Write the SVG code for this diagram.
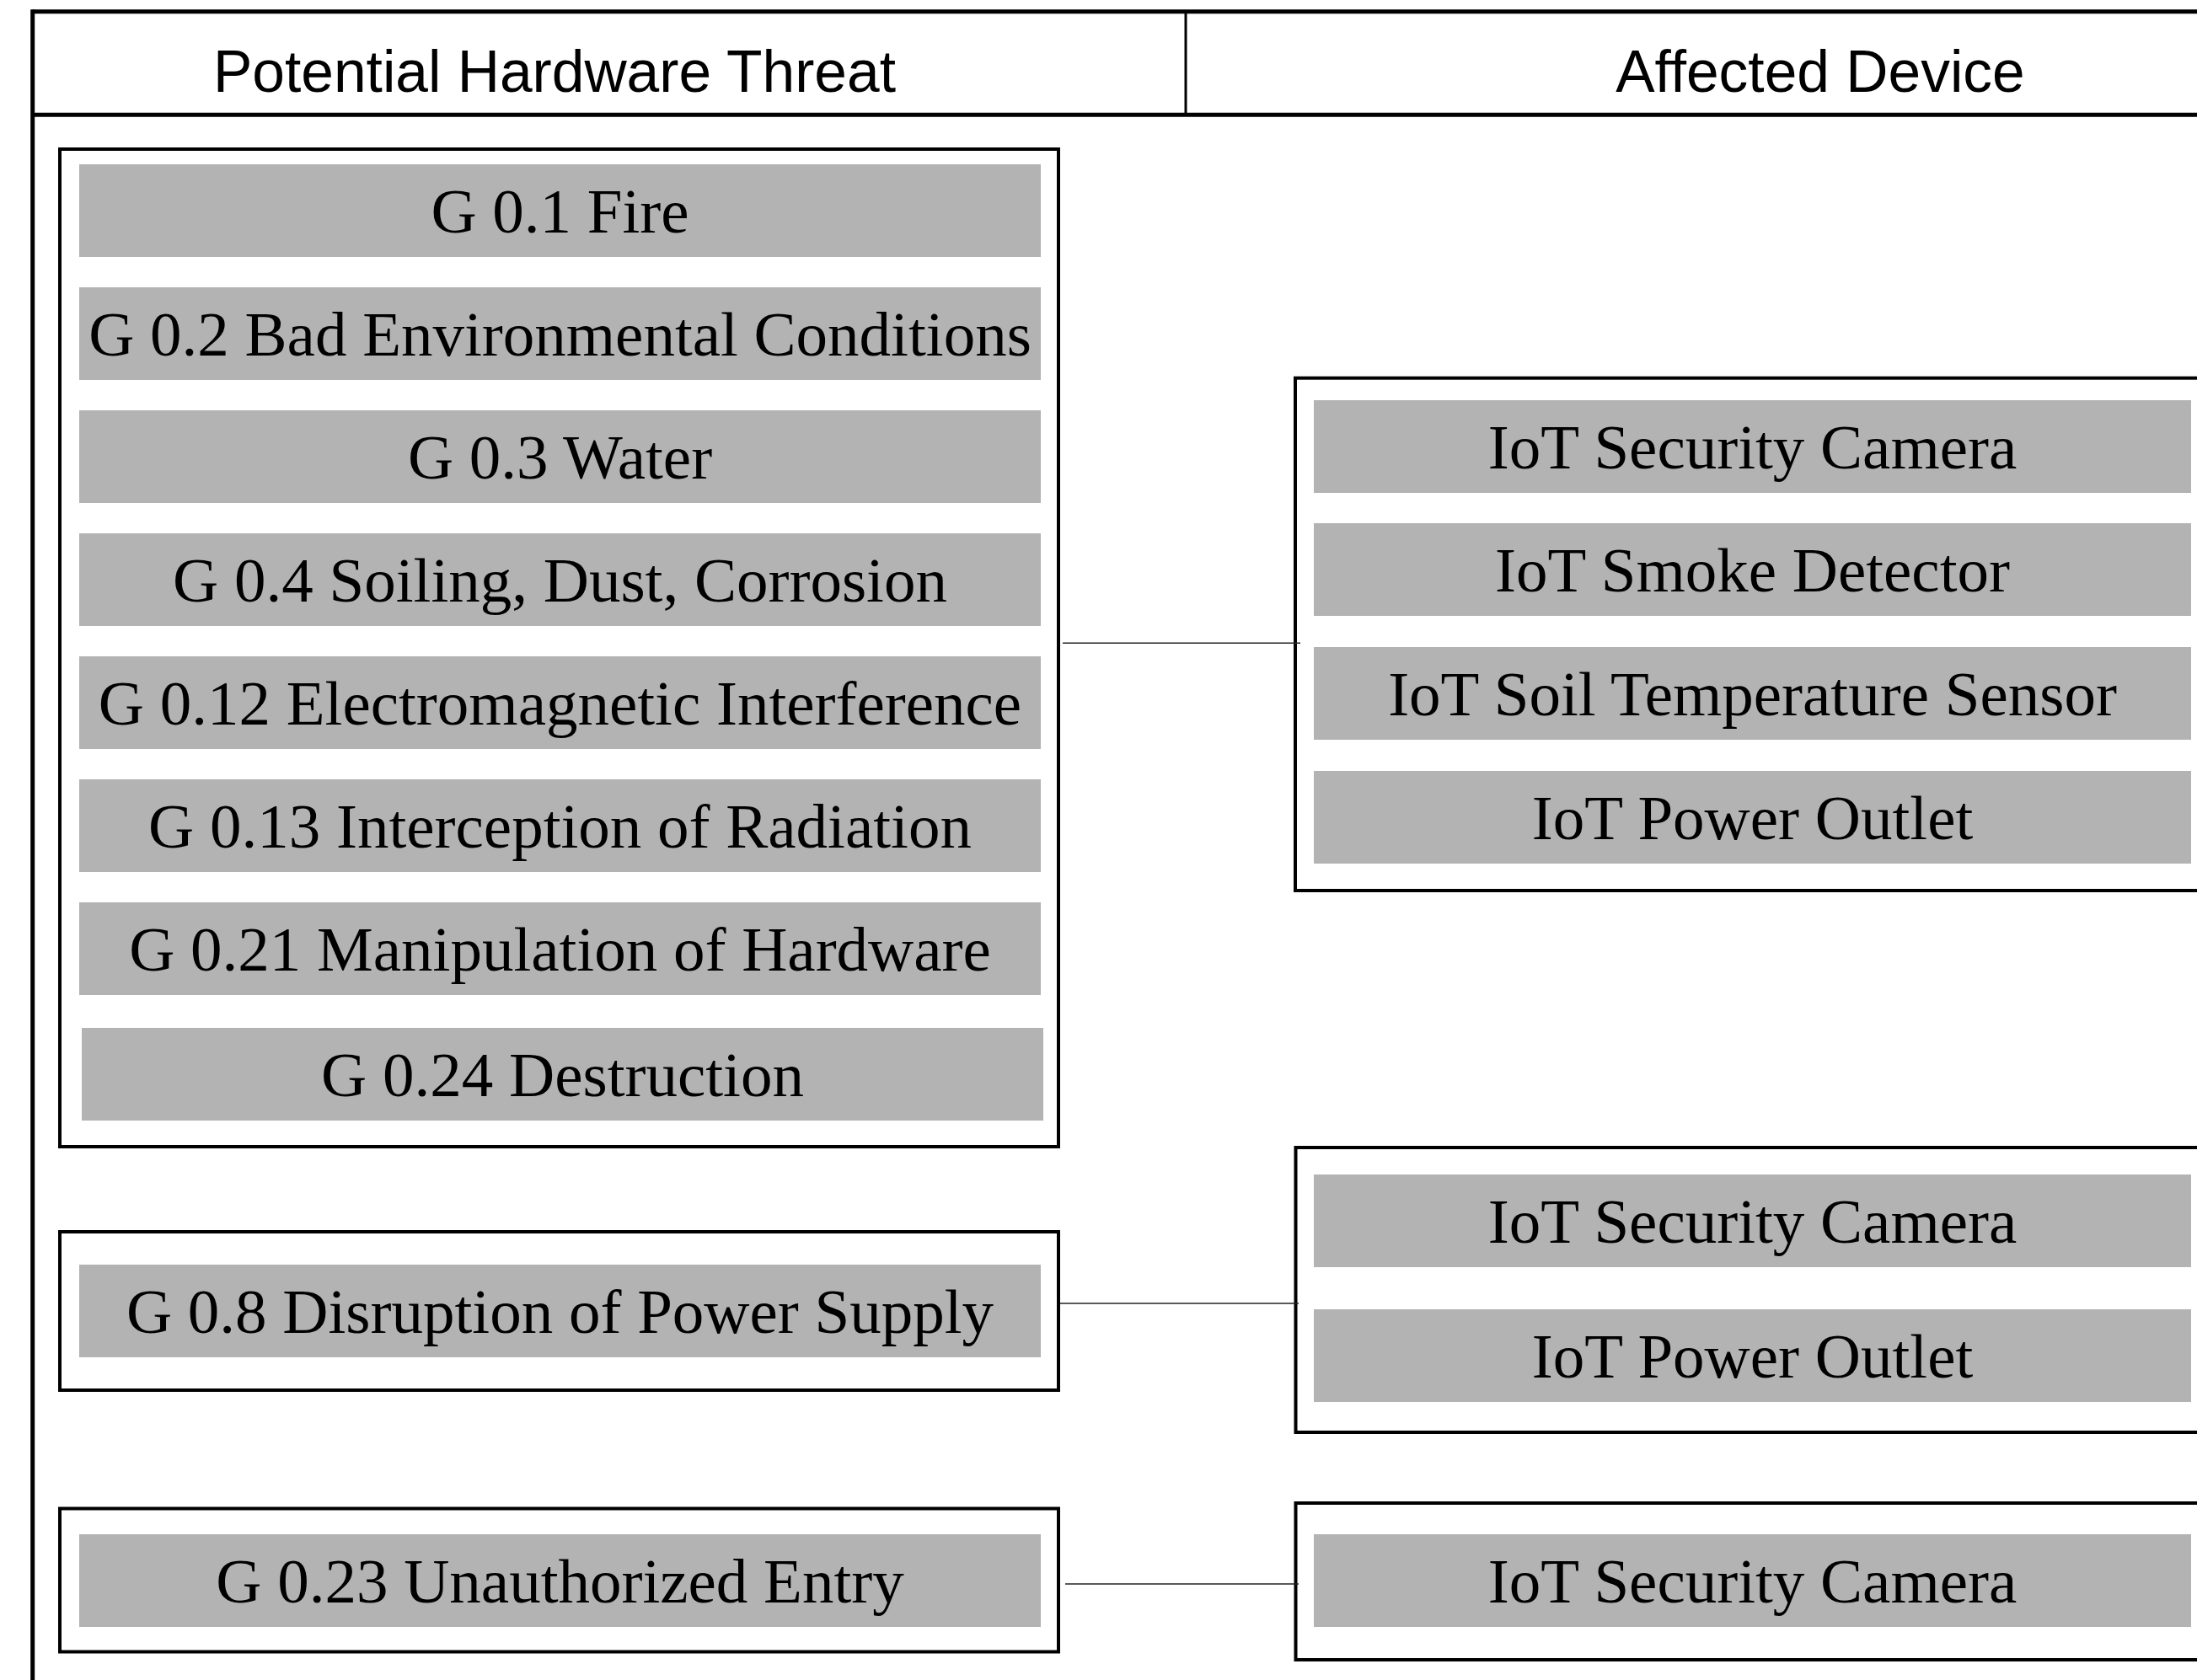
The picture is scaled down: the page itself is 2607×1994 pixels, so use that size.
<svg xmlns="http://www.w3.org/2000/svg" width="2607" height="1994" viewBox="0 0 2607 1994">
<style>
.frame{fill:none;stroke:#000;stroke-width:5}
.box{fill:#fff;stroke:#000;stroke-width:4}
.item{fill:#b3b3b3}
.hd{font-family:"Liberation Sans",Arial,Helvetica,sans-serif;font-size:69.5px;fill:#000;text-anchor:middle}
.lbl{font-family:"Liberation Serif","Times New Roman",serif;font-size:75px;fill:#000;text-anchor:middle}
.conn{stroke:#222;stroke-width:1.4;fill:none}
</style>
<rect x="0" y="0" width="2607" height="1994" fill="#fff"/>
<g id="table-frame">
<line class="frame" x1="38.7" y1="13.7" x2="2620" y2="13.7"/>
<line class="frame" x1="38.7" y1="11.2" x2="38.7" y2="2000"/>
<line class="frame" x1="38.7" y1="136.3" x2="2620" y2="136.3"/>
<line x1="1407" y1="14" x2="1407" y2="136" stroke="#000" stroke-width="3"/>
<text class="hd" x="658" y="109">Potential Hardware Threat</text>
<text class="hd" x="2160" y="109">Affected Device</text>
</g>
<g id="threat-group-1">
<rect class="box" x="71" y="177" width="1185" height="1184"/>
<rect class="item" x="94" y="195" width="1141" height="110"/>
<text class="lbl" x="664.5" y="276">G 0.1 Fire</text>
<rect class="item" x="94" y="341" width="1141" height="110"/>
<text class="lbl" x="664.5" y="422">G 0.2 Bad Environmental Conditions</text>
<rect class="item" x="94" y="487" width="1141" height="110"/>
<text class="lbl" x="664.5" y="568">G 0.3 Water</text>
<rect class="item" x="94" y="633" width="1141" height="110"/>
<text class="lbl" x="664.5" y="714">G 0.4 Soiling, Dust, Corrosion</text>
<rect class="item" x="94" y="779" width="1141" height="110"/>
<text class="lbl" x="664.5" y="860">G 0.12 Electromagnetic Interference</text>
<rect class="item" x="94" y="925" width="1141" height="110"/>
<text class="lbl" x="664.5" y="1006">G 0.13 Interception of Radiation</text>
<rect class="item" x="94" y="1071" width="1141" height="110"/>
<text class="lbl" x="664.5" y="1152">G 0.21 Manipulation of Hardware</text>
<rect class="item" x="97" y="1220" width="1141" height="110"/>
<text class="lbl" x="667.5" y="1301">G 0.24 Destruction</text>
</g>
<g id="threat-group-2">
<rect class="box" x="71" y="1462" width="1185" height="188"/>
<rect class="item" x="94" y="1501" width="1141" height="110"/>
<text class="lbl" x="664.5" y="1582">G 0.8 Disruption of Power Supply</text>
</g>
<g id="threat-group-3">
<rect class="box" x="71" y="1790.5" width="1185" height="170"/>
<rect class="item" x="94" y="1821" width="1141" height="110"/>
<text class="lbl" x="664.5" y="1902">G 0.23 Unauthorized Entry</text>
</g>
<g id="device-group-1">
<rect class="box" x="1537" y="448.7" width="1090" height="608.3"/>
<rect class="item" x="1559" y="475" width="1041" height="110"/>
<text class="lbl" x="2079.5" y="556">IoT Security Camera</text>
<rect class="item" x="1559" y="621" width="1041" height="110"/>
<text class="lbl" x="2079.5" y="702">IoT Smoke Detector</text>
<rect class="item" x="1559" y="768" width="1041" height="110"/>
<text class="lbl" x="2079.5" y="849">IoT Soil Temperature Sensor</text>
<rect class="item" x="1559" y="915" width="1041" height="110"/>
<text class="lbl" x="2079.5" y="996">IoT Power Outlet</text>
</g>
<g id="device-group-2">
<rect class="box" x="1537.5" y="1362" width="1090" height="338"/>
<rect class="item" x="1559" y="1394" width="1041" height="110"/>
<text class="lbl" x="2079.5" y="1475">IoT Security Camera</text>
<rect class="item" x="1559" y="1554" width="1041" height="110"/>
<text class="lbl" x="2079.5" y="1635">IoT Power Outlet</text>
</g>
<g id="device-group-3">
<rect class="box" x="1537.5" y="1784" width="1090" height="186"/>
<rect class="item" x="1559" y="1821" width="1041" height="110"/>
<text class="lbl" x="2079.5" y="1902">IoT Security Camera</text>
</g>
<g id="connectors">
<line class="conn" x1="1261" y1="763.3" x2="1543" y2="763.3"/>
<line class="conn" x1="1258" y1="1547" x2="1541" y2="1547"/>
<line class="conn" x1="1264" y1="1880" x2="1541" y2="1880"/>
</g>
</svg>
